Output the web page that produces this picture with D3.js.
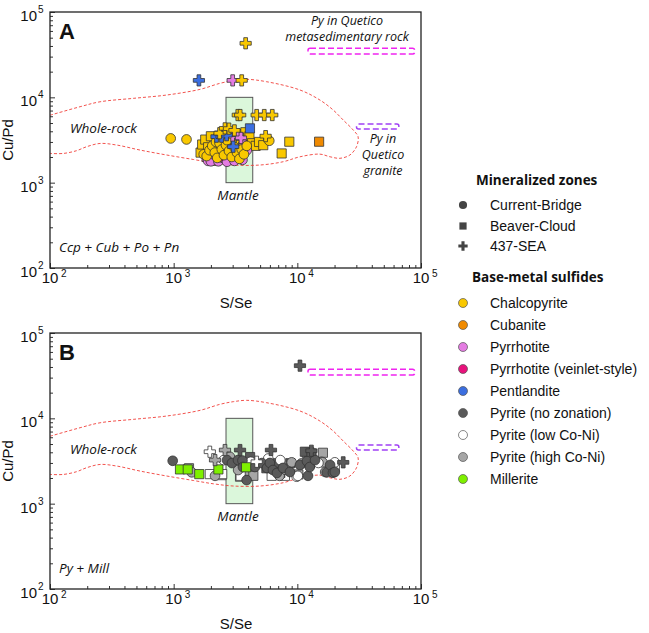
<!DOCTYPE html>
<html><head><meta charset="utf-8">
<script src="https://cdn.jsdelivr.net/npm/d3@7"></script>
<style>body{margin:0;background:#fff}svg{display:block}</style>
</head><body><svg id="chart" width="649" height="633"></svg>
<script>
// values: [S/Se, Cu/Pd]
const ccpSquares=[[1650,2250],[1700,2800],[1800,3200],[1900,2600],[2000,3500],[2100,2000],[2200,1800],[2300,3300],[2400,2600],[2600,3600],[2750,2900],[2900,3900],[3000,2300],[3050,3300],[3200,2800],[3350,3700],[3500,3200],[3650,2650],[3800,3900],[3950,3000],[4100,3500],[4300,2900],[4600,2700],[4900,3000],[5300,2750],[7470,2200],[8610,3020]];
const ccpCircles=[[946,3300],[1270,3210],[1750,2150],[1850,2050],[1950,2400],[2050,2700],[2150,2250],[2200,3000],[2250,1950],[2350,2900],[2450,2450],[2550,2100],[2650,2750],[2700,3150],[2800,2350],[2950,2000],[3100,2600],[3250,2250],[3400,1900],[3550,2450],[3700,2150],[3900,2700],[5930,3100]];
const ccpPlus=[[2350,3800],[2600,4330],[2800,4300],[3100,4100],[3300,6200],[3450,6200],[4690,6200],[5400,6200],[6270,6200],[5540,3510],[3550,15800],[3820,43000]];
const cubSquares=[[15000,3020]];
const poCircles=[[1900,1800],[2000,1780],[2100,2150],[2300,1780],[2400,2350],[2500,1950],[2700,1760],[2900,2200],[3100,1800],[3350,2100],[3600,1850],[3700,2800],[3900,2400]];
const poSquares=[[1850,2000],[3000,2050]];
const poPlus=[[3000,3500],[3300,3650],[3500,3350],[3000,15800]];
const poVeinCircles=[[2350,2000],[3200,2450]];
const pnSquares=[[4140,4330]];
const pnPlus=[[2220,3460],[2440,3460],[2680,3600],[3030,2640],[1600,15800]];

const pyCircles=[[982,3180],[2700,3240],[2960,2990],[3310,3240],[3600,3200],[3630,2690],[3890,1890],[4540,2690],[5170,2990],[5680,2620],[6000,3000],[6350,2480],[6840,2290],[7650,2620],[8710,2350],[10500,2840],[11960,3150],[12200,2120],[12600,2690],[13900,3240],[17300,2330],[18400,2840],[19400,2300],[20100,2350]];
const pySquares=[[4150,3520],[5620,2600],[6700,2980],[7280,2290],[8780,2980],[11500,4060],[13000,3600]];
const pyPlus=[[3440,4250],[6120,4250],[13000,4170],[23500,3050],[10500,41400]];
const pyLowCircles=[[2540,3240],[4200,3100],[5820,3380],[7280,3240],[9880,2070],[10100,2120],[14800,3000],[20100,3050]];
const pyLowSquares=[[1960,2220],[2440,2160],[2470,2220],[3440,2070],[3480,2120],[6200,2120],[7940,2120],[12500,4000],[12970,3880],[20100,2700]];
const pyLowPlus=[[1960,4060],[4690,3100]];
const pyHighCircles=[[1400,2330],[2160,2120],[2850,3540],[3320,2480],[7180,2120],[8000,2500],[9000,3050],[10800,2960],[15700,3090],[16000,3050],[16800,2350]];
const pyHighSquares=[[1330,2600],[3900,2400],[4410,2120],[7050,2600],[10200,2200],[11900,3950],[12600,2960],[16100,3950]];
const pyHighPlus=[[2160,3240],[2600,4250]];
const millSquares=[[1125,2520],[1300,2520],[1610,2220],[2300,2520],[3850,2670]];

// whole-rock envelope outline, left edge open on the axis
const wholeRock=[[100,6170],[175,7760],[254,8870],[472,9730],[877,10640],[1633,12400],[2366,14590],[3034,15670],[3890,16250],[5650,15240],[10500,12190],[15240,9290],[19500,7100],[23500,5420],[28300,4140],[31000,3450],[30100,2640],[26600,2110],[22100,1930],[18400,2010],[15200,2160],[10500,2010],[7690,1760],[4990,1610],[3030,1610],[2090,1710],[1440,1870],[877,2110],[535,2410],[346,2760],[254,2880],[198,2640],[164,2370],[128,2200],[100,2200]];
const mantleSSe=[2650,4360], mantleCuPd=[1000,10000];
const quetMetaSSe=[12200,89000], quetMetaCuPd=[32200,37500];
const quetGranSSe=[30100,66200], quetGranCuPd=[4250,4860];
const majorTicks=[1e2,1e3,1e4,1e5];

const zones=['Current-Bridge','Beaver-Cloud','437-SEA'];
const minerals=['Chalcopyrite','Cubanite','Pyrrhotite','Pyrrhotite (veinlet-style)','Pentlandite','Pyrite (no zonation)','Pyrite (low Co-Ni)','Pyrite (high Co-Ni)','Millerite'];
const colors=['#f9c800','#f08a00','#e47ce2','#e8127c','#3b6ee0','#5a5a5a','#ffffff','#a6a6a6','#7ef000'];
const shapes=[d3.symbolCircle,d3.symbolSquare,d3.symbolCross];
const sizes=[74,84,70];

const panelA=[[poSquares,2,1],[ccpSquares,0,1],[cubSquares,1,1],[pnSquares,4,1],[poCircles,2,0],[poVeinCircles,3,0],[ccpCircles,0,0],[poPlus,2,2],[pnPlus,4,2],[ccpPlus,0,2]];
const panelB=[[pyHighSquares,7,1],[pyLowSquares,6,1],[pySquares,5,1],[pyHighCircles,7,0],[pyLowCircles,6,0],[pyCircles,5,0],[millSquares,8,1],[pyLowPlus,6,2],[pyHighPlus,7,2],[pyPlus,5,2]];

const svg=d3.select('#chart');
const L=50,R=421,H=256;
const x=d3.scaleLog().domain([1e2,1e5]).range([L,R]);
const minor=x.ticks().filter(v=>!majorTicks.includes(v));
const italic="'Open Sans',sans-serif", arial="'Liberation Sans',Arial,sans-serif";

function label(g,text,px,py,opt={}){
 return g.append('text').attr('x',px).attr('y',py).text(text)
  .attr('font-family',opt.family||italic).attr('font-style',opt.style||'italic')
  .attr('font-size',opt.size||13.5).attr('font-weight',opt.weight||'normal')
  .attr('text-anchor',opt.anchor||'start').attr('fill','#111');
}

function panel(top,letter,assemblage,series,notes){
 const y=d3.scaleLog().domain([1e2,1e5]).range([top+H,top]);
 const g=svg.append('g');
 const clip='clip'+letter;
 g.append('clipPath').attr('id',clip).append('rect').attr('x',L).attr('y',top).attr('width',R-L).attr('height',H);
 const plot=g.append('g').attr('clip-path',`url(#${clip})`);
 plot.append('rect').attr('x',x(mantleSSe[0])).attr('y',y(mantleCuPd[1]))
  .attr('width',x(mantleSSe[1])-x(mantleSSe[0])).attr('height',y(mantleCuPd[0])-y(mantleCuPd[1]))
  .attr('fill','#dbf7db').attr('stroke','#555').attr('stroke-width',1);
 plot.append('path').datum(wholeRock)
  .attr('d',d3.line().x(d=>x(d[0])).y(d=>y(d[1])).curve(d3.curveCatmullRom.alpha(0.5)))
  .attr('fill','none').attr('stroke','#f0403a').attr('stroke-width',0.9).attr('stroke-dasharray','3,2');
 [[quetMetaSSe,quetMetaCuPd,'#f025f0'],[quetGranSSe,quetGranCuPd,'#a040f5']].forEach(([sx,sy,c])=>
  plot.append('rect').attr('x',x(sx[0])).attr('y',y(sy[1])).attr('width',x(sx[1])-x(sx[0])).attr('height',y(sy[0])-y(sy[1]))
   .attr('rx',2).attr('fill','none').attr('stroke',c).attr('stroke-width',1.5).attr('stroke-dasharray','6,3'));
 series.forEach(([pts,m,z])=>plot.append('g').selectAll('path').data(pts).join('path')
  .attr('transform',d=>`translate(${x(d[0])},${y(d[1])})`)
  .attr('d',d3.symbol(shapes[z],sizes[z]))
  .attr('fill',colors[m]).attr('stroke','#333').attr('stroke-width',0.8));

 // axes: minor and major ticks pointing inward
 const bottom=g.append('g').attr('transform',`translate(0,${top+H})`);
 bottom.append('g').call(d3.axisBottom(x).tickValues(minor).tickSize(-3).tickFormat(''));
 bottom.append('g').call(d3.axisBottom(x).tickValues(majorTicks).tickSize(-5).tickFormat(''));
 const left=g.append('g').attr('transform',`translate(${L},0)`);
 left.append('g').call(d3.axisLeft(y).tickValues(minor).tickSize(-3).tickFormat(''));
 left.append('g').call(d3.axisLeft(y).tickValues(majorTicks).tickSize(-5).tickFormat(''));
 g.selectAll('.domain').remove();
 g.selectAll('.tick line').attr('stroke','#333');
 g.append('rect').attr('x',L).attr('y',top).attr('width',R-L).attr('height',H)
  .attr('fill','none').attr('stroke','#222').attr('stroke-width',1.3);

 majorTicks.forEach(v=>{
  const e=Math.log10(v);
  label(g,'10',x(v),top+H+15,{family:arial,style:'normal',size:15,anchor:'middle'});
  label(g,e,x(v)+11,top+H+9,{family:arial,style:'normal',size:10});
  label(g,'10',37,y(v)+9,{family:arial,style:'normal',size:15,anchor:'end'});
  label(g,e,38,y(v)+1,{family:arial,style:'normal',size:10});
 });
 label(g,'S/Se',236,top+H+40,{family:arial,style:'normal',size:15,anchor:'middle'});
 label(g,'Cu/Pd',0,0,{family:arial,style:'normal',size:15,anchor:'middle'})
  .attr('transform',`translate(13,${top+128}) rotate(-90)`);

 label(g,letter,59,top+27,{family:arial,style:'normal',size:22,weight:'bold'});
 label(g,'Whole-rock',70,top+121);
 label(g,'Mantle',238,top+188,{anchor:'middle'});
 label(g,assemblage,59,top+240);
 notes.forEach(([t,px,py])=>label(g,t,px,py,{anchor:'middle',size:12.5}));
}

panel(12,'A','Ccp + Cub + Po + Pn',panelA,[
 ['Py in Quetico',347,25],['metasedimentary rock',347,41],
 ['Py in',383,143],['Quetico',383,159],['granite',383,175]]);
panel(333,'B','Py + Mill',panelB,[]);

// legend
const lg=svg.append('g');
label(lg,'Mineralized zones',476,185,{style:'normal',weight:'bold',size:13.5});
zones.forEach((z,i)=>{
 const cy=[205,226,246][i];
 lg.append('path').attr('transform',`translate(463,${cy})`).attr('d',d3.symbol(shapes[i],i==2?48:52)).attr('fill','#444');
 label(lg,z,490,cy+5,{family:arial,style:'normal',size:14});
});
label(lg,'Base-metal sulfides',472,282,{style:'normal',weight:'bold',size:13.5});
minerals.forEach((m,i)=>{
 const cy=303+i*22;
 lg.append('circle').attr('cx',463).attr('cy',cy).attr('r',4.5).attr('fill',colors[i]).attr('stroke','#555').attr('stroke-width',0.7);
 label(lg,m,490,cy+5,{family:arial,style:'normal',size:14});
});
</script></body></html>
